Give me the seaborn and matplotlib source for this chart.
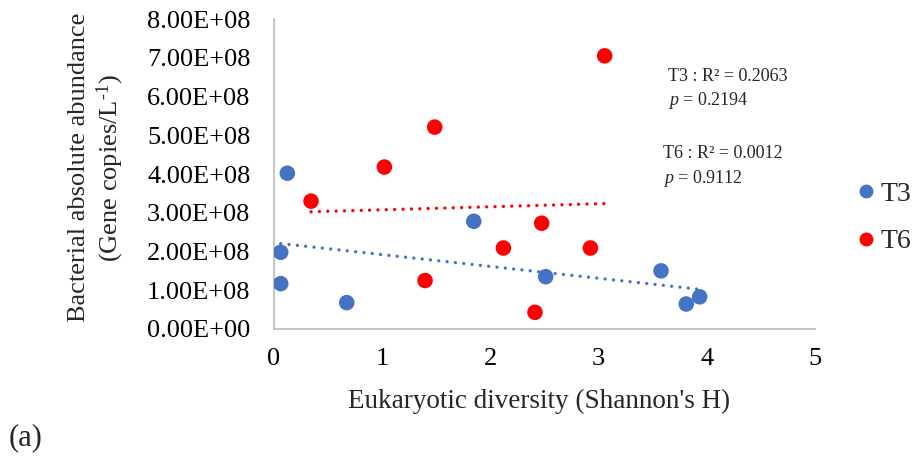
import numpy as np
import pandas as pd
import matplotlib
matplotlib.use("Agg")
import matplotlib.pyplot as plt
from matplotlib.lines import Line2D
from matplotlib.ticker import FuncFormatter
import seaborn as sns

# Shannon diversity (x) and bacterial abundance (y, gene copies per L)
t3_diversity = [0.123, 0.062, 0.062, 0.672, 1.846, 2.511, 3.577, 3.810, 3.934]
t3_abundance = [4.02e8, 1.98e8, 1.17e8, 0.68e8, 2.78e8, 1.35e8, 1.50e8, 0.645e8, 0.83e8]
t6_diversity = [0.342, 1.020, 1.485, 1.396, 2.120, 2.474, 2.412, 2.924, 3.056]
t6_abundance = [3.30e8, 4.18e8, 5.21e8, 1.25e8, 2.09e8, 2.73e8, 0.43e8, 2.09e8, 7.05e8]

groups = ["T3", "T6"]
colors = {"T3": "#4472C4", "T6": "#FF0000"}
stats_text = {
    "T3": ("T3 : R\u00b2 = 0.2063", "$\\mathit{p}$ = 0.2194"),
    "T6": ("T6 : R\u00b2 = 0.0012", "$\\mathit{p}$ = 0.9112"),
}
x_ticks = [0, 1, 2, 3, 4, 5]
y_ticks = [0, 1e8, 2e8, 3e8, 4e8, 5e8, 6e8, 7e8, 8e8]

df = pd.concat([
    pd.DataFrame({"div": t3_diversity, "abund": t3_abundance, "group": "T3"}),
    pd.DataFrame({"div": t6_diversity, "abund": t6_abundance, "group": "T6"}),
], ignore_index=True)

sns.set_theme(style="white")
serif = "Liberation Serif"
plt.rcParams["font.family"] = [serif, "DejaVu Serif"]
plt.rcParams["mathtext.fontset"] = "custom"
plt.rcParams["mathtext.rm"] = serif
plt.rcParams["mathtext.it"] = serif + ":italic"

fig = plt.figure(figsize=(9.14, 4.57), dpi=100)
ax = fig.add_axes([0.2998, 0.2801, 0.5919, 0.6783])

# dotted linear trendlines, fitted over each group's data range
for g in groups:
    sub = df[df["group"] == g]
    sns.regplot(data=sub, x="div", y="abund", ax=ax, scatter=False, ci=None,
                truncate=True,
                line_kws=dict(color=colors[g], lw=2.4,
                              linestyle=(0, (0.01, 2.5)),
                              dash_capstyle="round"))

sns.scatterplot(data=df, x="div", y="abund", hue="group", palette=colors,
                s=125, linewidth=0, ax=ax, legend=False, zorder=3)

ax.set_xlim(0, 5)
ax.set_ylim(0, 8e8)
ax.set_xticks(x_ticks)
ax.set_yticks(y_ticks)
ax.yaxis.set_major_formatter(FuncFormatter(lambda v, _: f"{v:.2E}"))
ax.tick_params(axis="both", length=0, labelsize=19, colors="black")
ax.tick_params(axis="y", pad=17)
ax.tick_params(axis="x", pad=14)

for side in ["top", "right"]:
    ax.spines[side].set_visible(False)
for side in ["left", "bottom"]:
    ax.spines[side].set_color("#BFBFBF")
    ax.spines[side].set_linewidth(1.3)

ax.set_xlabel("Eukaryotic diversity (Shannon's H)", fontsize=19.5)
ax.xaxis.set_label_coords(0.49, -0.194)
ax.set_ylabel("Bacterial absolute abundance\n(Gene copies/L$^{\\text{-1}}$)",
              fontsize=19, linespacing=1.2)
ax.yaxis.set_label_coords(-0.273, 0.52)

# regression statistics
stat_kw = dict(transform=ax.transAxes, fontsize=13, va="center", ha="left")
ax.text(0.728, 0.815, stats_text["T3"][0], **stat_kw)
ax.text(0.728, 0.737, stats_text["T3"][1], **stat_kw)
ax.text(0.719, 0.566, stats_text["T6"][0], **stat_kw)
ax.text(0.719, 0.487, stats_text["T6"][1], **stat_kw)

handles = [Line2D([], [], marker="o", linestyle="none", markersize=10,
                  markerfacecolor=colors[g], markeredgewidth=0, label=g)
           for g in groups]
fig.legend(handles=handles, loc="center left", bbox_to_anchor=(0.934, 0.523),
           frameon=False, fontsize=20, handletextpad=0.05, labelspacing=0.78,
           handlelength=0.9, borderaxespad=0, borderpad=0)

fig.text(0.009, 0.043, "(a)", fontsize=22, va="center", ha="left")

fig.savefig("out.png", dpi=100)
